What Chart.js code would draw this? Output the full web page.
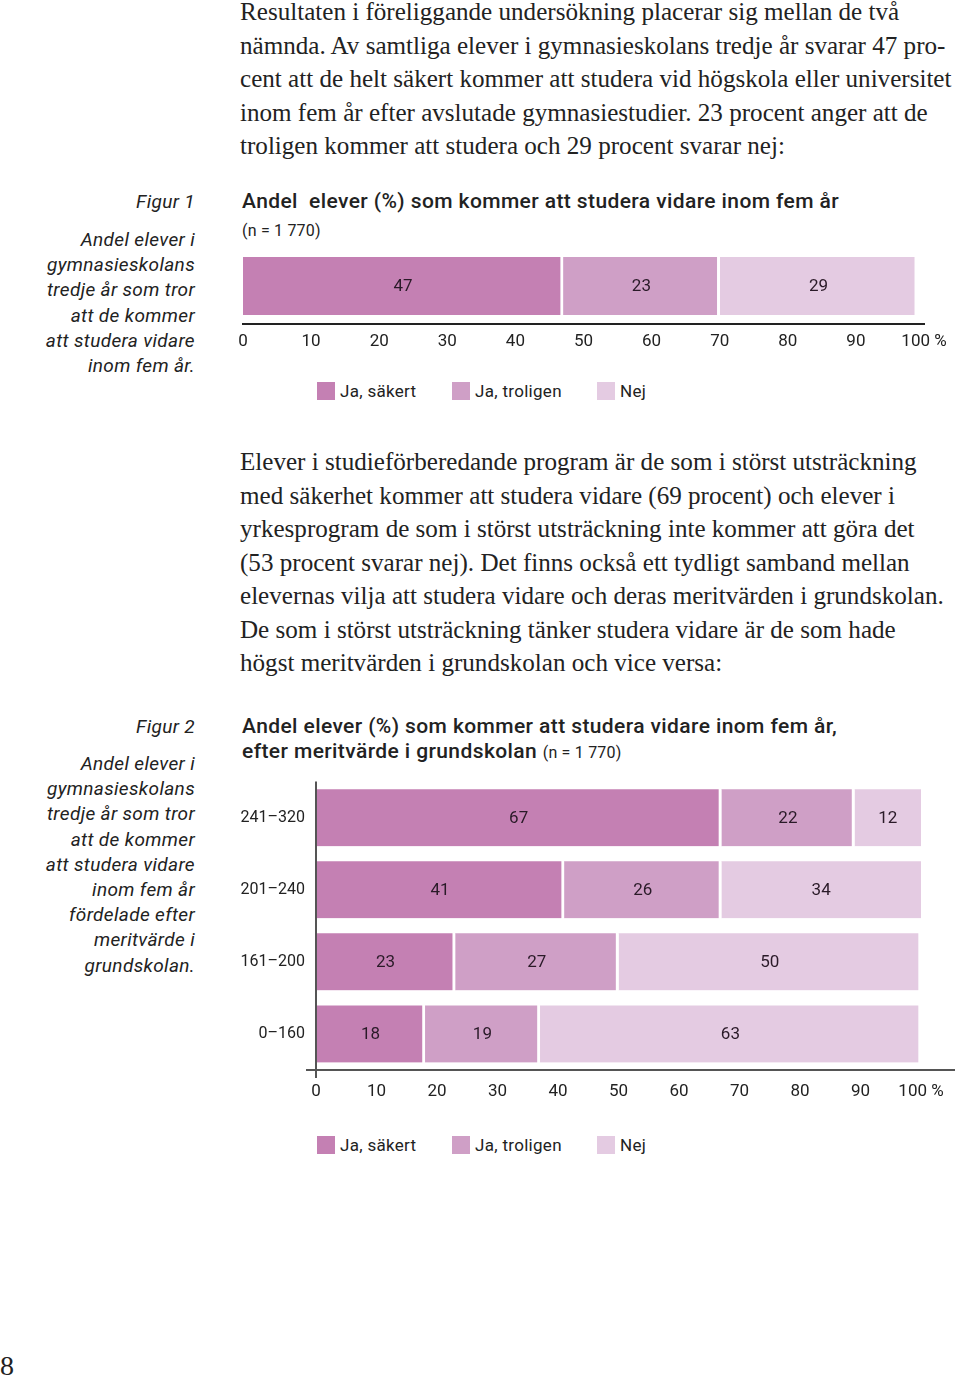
<!DOCTYPE html>
<html>
<head>
<meta charset="utf-8">
<script src="https://cdn.jsdelivr.net/npm/chart.js@4/dist/chart.umd.min.js"></script>
<style>
body { margin: 0; width: 960px; height: 1379px; background: #fff; position: relative; overflow: hidden; }
.body-text { position: absolute; left: 240px; font-family: "Liberation Serif", serif; font-size: 25.1px; line-height: 33.5px; color: #222; white-space: nowrap; }
.caption { position: absolute; right: 765px; text-align: right; font-family: Roboto, sans-serif; font-style: italic; font-size: 19px; letter-spacing: 0.35px; line-height: 25.2px; color: #222; white-space: nowrap; }
.ctitle { position: absolute; left: 242px; font-family: Roboto, sans-serif; font-weight: 500; font-size: 21px; letter-spacing: 0.4px; line-height: 25px; color: #222; white-space: pre; }
.ctitle small { font-weight: 400; font-size: 16px; letter-spacing: 0.2px; }
.legend { position: absolute; left: 0; width: 960px; height: 20px; font-family: Roboto, sans-serif; font-size: 17px; letter-spacing: 0.3px; color: #222; }
.legend span.box { position: absolute; width: 18px; height: 18px; top: 1px; }
.legend span.lbl { position: absolute; top: 0; line-height: 20px; }
.chartbox { position: absolute; left: 230px; width: 730px; }
.pagenr { position: absolute; left: 0; top: 1350px; font-family: "Liberation Serif", serif; font-size: 28px; color: #222; }
</style>
</head>
<body>

<div class="body-text" style="top:-5px">Resultaten i föreliggande undersökning placerar sig mellan de två<br>nämnda. Av samtliga elever i gymnasieskolans tredje år svarar 47 pro-<br>cent att de helt säkert kommer att studera vid högskola eller universitet<br>inom fem år efter avslutade gymnasiestudier. 23 procent anger att de<br>troligen kommer att studera och 29 procent svarar nej:</div>

<div class="caption" style="top:189px">Figur 1</div>
<div class="caption" style="top:227px">Andel elever i<br>gymnasieskolans<br>tredje år som tror<br>att de kommer<br>att studera vidare<br>inom fem år.</div>

<div class="ctitle" style="top:189px">Andel  elever (%) som kommer att studera vidare inom fem år</div>
<div class="ctitle" style="top:217px"><small>(n = 1 770)</small></div>

<div class="chartbox" style="top:240px;height:120px"><canvas id="fig1"></canvas></div>
<div class="legend" id="legend1" style="top:381px"></div>

<div class="body-text" style="top:445px">Elever i studieförberedande program är de som i störst utsträckning<br>med säkerhet kommer att studera vidare (69 procent) och elever i<br>yrkesprogram de som i störst utsträckning inte kommer att göra det<br>(53 procent svarar nej). Det finns också ett tydligt samband mellan<br>elevernas vilja att studera vidare och deras meritvärden i grundskolan.<br>De som i störst utsträckning tänker studera vidare är de som hade<br>högst meritvärden i grundskolan och vice versa:</div>

<div class="caption" style="top:714px">Figur 2</div>
<div class="caption" style="top:751px">Andel elever i<br>gymnasieskolans<br>tredje år som tror<br>att de kommer<br>att studera vidare<br>inom fem år<br>fördelade efter<br>meritvärde i<br>grundskolan.</div>

<div class="ctitle" style="top:714px">Andel elever (%) som kommer att studera vidare inom fem år,<br>efter meritvärde i grundskolan <small>(n = 1 770)</small></div>

<div class="chartbox" style="top:761px;height:359px"><canvas id="fig2"></canvas></div>
<div class="legend" id="legend2" style="top:1135px"></div>

<div class="pagenr">8</div>

<script>
// series names and colours
var seriesLabels = ['Ja, säkert', 'Ja, troligen', 'Nej'];
var seriesColors = ['#c480b3', '#cf9fc6', '#e4cbe2'];

// figur 1
var fig1Categories = ['Alla'];
var fig1JaSakert = [47];
var fig1JaTroligen = [23];
var fig1Nej = [29];

// figur 2, meritvärde
var fig2Categories = ['241–320', '201–240', '161–200', '0–160'];
var fig2JaSakert = [67, 41, 23, 18];
var fig2JaTroligen = [22, 26, 27, 19];
var fig2Nej = [12, 34, 50, 63];

// x axis ticks
var xTickValues = [0, 10, 20, 30, 40, 50, 60, 70, 80, 90, 100];

var font = 'Roboto, sans-serif';

// numbers inside each bar segment
var segmentLabels = {
  id: 'segmentLabels',
  afterDatasetsDraw: function(chart) {
    var ctx = chart.ctx;
    ctx.save();
    ctx.font = '17px ' + font;
    ctx.fillStyle = '#2a1a28';
    ctx.textAlign = 'center';
    ctx.textBaseline = 'middle';
    chart.data.datasets.forEach(function(ds, i) {
      chart.getDatasetMeta(i).data.forEach(function(bar, j) {
        var p = bar.getProps(['x', 'y', 'base'], true);
        var right = Math.min(p.x, chart.chartArea.right);
        ctx.fillText(ds.data[j], (p.base + right) / 2, p.y + 1);
      });
    });
    ctx.restore();
  }
};

// longer axis lines for figur 2
var axisLines = {
  id: 'axisLines',
  afterDraw: function(chart) {
    var a = chart.chartArea;
    var ctx = chart.ctx;
    ctx.save();
    ctx.strokeStyle = '#555';
    ctx.lineWidth = 2;
    ctx.beginPath();
    ctx.moveTo(a.left - 10, a.bottom);
    ctx.lineTo(a.right + 34, a.bottom);
    ctx.moveTo(a.left, a.top);
    ctx.lineTo(a.left, a.bottom + 8);
    ctx.stroke();
    ctx.restore();
  }
};

function makeDatasets(values) {
  return values.map(function(v, i) {
    return {
      label: seriesLabels[i],
      data: v,
      backgroundColor: seriesColors[i],
      borderColor: '#fff',
      borderWidth: { right: 3 },
      borderSkipped: false
    };
  });
}

function xScale(height, pad, border) {
  return {
    stacked: true,
    min: 0,
    max: 100,
    afterBuildTicks: function(s) { s.ticks = xTickValues.map(function(v) { return { value: v }; }); },
    afterFit: function(s) { s.height = height; },
    grid: { display: false, drawTicks: false },
    border: border,
    ticks: {
      padding: pad,
      color: '#222',
      font: { family: font, size: 17 },
      maxRotation: 0,
      callback: function(v) { return v == 100 ? '100 %' : v; }
    }
  };
}

function makeLegend(id) {
  var el = document.getElementById(id);
  var boxX = [317, 452, 597];
  seriesLabels.forEach(function(l, i) {
    var b = document.createElement('span');
    b.className = 'box';
    b.style.left = boxX[i] + 'px';
    b.style.background = seriesColors[i];
    el.appendChild(b);
    var t = document.createElement('span');
    t.className = 'lbl';
    t.style.left = (boxX[i] + 23) + 'px';
    t.textContent = l;
    el.appendChild(t);
  });
}

new Chart('fig1', {
  type: 'bar',
  data: {
    labels: fig1Categories,
    datasets: makeDatasets([fig1JaSakert, fig1JaTroligen, fig1Nej])
  },
  options: {
    indexAxis: 'y',
    responsive: true,
    maintainAspectRatio: false,
    animation: false,
    barThickness: 58,
    layout: { padding: { top: 8, left: 13, right: 36, bottom: 0 } },
    plugins: { legend: { display: false }, tooltip: { enabled: false } },
    scales: {
      x: xScale(36, 8, { display: true, color: '#222', width: 2 }),
      y: { stacked: true, display: false }
    }
  },
  plugins: [segmentLabels]
});

new Chart('fig2', {
  type: 'bar',
  data: {
    labels: fig2Categories,
    datasets: makeDatasets([fig2JaSakert, fig2JaTroligen, fig2Nej])
  },
  options: {
    indexAxis: 'y',
    responsive: true,
    maintainAspectRatio: false,
    animation: false,
    barThickness: 57,
    layout: { padding: { top: 12, left: 0, right: 39, bottom: 0 } },
    plugins: { legend: { display: false }, tooltip: { enabled: false } },
    scales: {
      x: xScale(50, 12, { display: false }),
      y: {
        stacked: true,
        afterFit: function(s) { s.width = 86; },
        grid: { display: false, drawTicks: false },
        border: { display: false },
        ticks: { padding: 11, color: '#222', font: { family: font, size: 16 } }
      }
    }
  },
  plugins: [segmentLabels, axisLines]
});

makeLegend('legend1');
makeLegend('legend2');
</script>
</body>
</html>
